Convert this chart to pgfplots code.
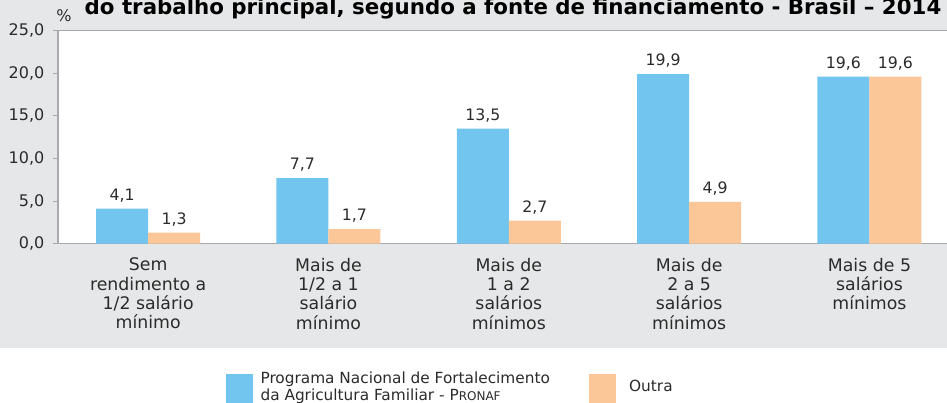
\documentclass[border=0pt]{standalone}
\usepackage{pgfplots}
\pgfplotsset{compat=1.18}
\usepackage{fontspec}
\setmainfont{DejaVu Sans}
\definecolor{bggray}{HTML}{E6E7E8}
\definecolor{barblue}{HTML}{71C5EE}
\definecolor{barorange}{HTML}{FBC799}
\definecolor{txt}{HTML}{2B2B2B}
\definecolor{axgray}{HTML}{A7A9AC}
\begin{document}
\begin{tikzpicture}
\fill[bggray] (0pt,41pt) rectangle (710.25pt,302.25pt);
\fill[white] (0pt,0pt) rectangle (710.25pt,41pt);
\begin{axis}[
  at={(43.5pt,119.5pt)}, anchor=south west,
  scale only axis, width=666.75pt, height=159.75pt,
  xmin=-0.5, xmax=4.43, ymin=0, ymax=25,
  enlarge x limits=false, enlarge y limits=false,
  ybar=0pt, bar width=39pt,
  axis background/.style={fill=white},
  axis x line*=bottom, axis y line*=left,
  axis line style={axgray, line width=0.8pt},
  xtick={0,1,2,3,4},
  xticklabels={{Sem\\rendimento a\\1/2 salário\\mínimo},{Mais de\\1/2 a 1\\salário\\mínimo},{Mais de\\1 a 2\\salários\\mínimos},{Mais de\\2 a 5\\salários\\mínimos},{Mais de 5\\salários\\mínimos}},
  x tick style={draw=none},
  xticklabel style={align=center, font=\fontsize{13}{14.5}\selectfont, text=txt, yshift=-3.5pt},
  ytick={0,5,10,15,20,25},
  y tick style={axgray, line width=0.8pt},
  tick align=outside, major tick length=3.75pt,
  yticklabel style={font=\fontsize{12}{14}\selectfont, text=txt, xshift=-3pt, /pgf/number format/.cd, fixed, fixed zerofill, precision=1, use comma},
  /pgf/number format/assume math mode=true,
  nodes near coords={\pgfmathprintnumber[fixed,fixed zerofill,precision=1,use comma]{\pgfplotspointmeta}},
  every node near coord/.append style={font=\fontsize{11.8}{14}\selectfont, text=txt, yshift=1.5pt},
  legend columns=2,
  legend style={at={(0.184,-0.677)}, anchor=west, draw=none, fill=none,
    font=\fontsize{11.5}{12.75}\selectfont, text=txt,
    cells={anchor=west},
    /tikz/every odd column/.append style={column sep=3.75pt},
    /tikz/every even column/.append style={column sep=19pt}},
]
\addplot[fill=barblue, draw=none, legend image code/.code={\fill[barblue] (0pt,-17.25pt) rectangle (20.25pt,6.75pt);}] coordinates {(0,4.1) (1,7.7) (2,13.5) (3,19.9) (4,19.6)};
\addlegendentry{\parbox{225pt}{\raggedright Programa Nacional de Fortalecimento\\da Agricultura Familiar - P{\fontsize{9}{10}\selectfont RONAF}}}
\addplot[fill=barorange, draw=none, legend image code/.code={\fill[barorange] (0pt,-17.25pt) rectangle (20.25pt,6.75pt);}] coordinates {(0,1.3) (1,1.7) (2,2.7) (3,4.9) (4,19.6)};
\addlegendentry{\hspace*{4.5pt}\raisebox{-2.5pt}[\height][\depth]{Outra}}
\draw[axgray, line width=0.8pt] (rel axis cs:0,1) -- (rel axis cs:1,1);
\end{axis}
\node[anchor=base, font=\bfseries\fontsize{16}{18}\selectfont, text=black] at (384.75pt,291pt) {do trabalho principal, segundo a fonte de financiamento - Brasil – 2014};
\node[anchor=base, font=\fontsize{12}{13}\selectfont, text=txt] at (48pt,285.75pt) {\%};
\pgfresetboundingbox
\path[use as bounding box] (0pt,0pt) rectangle (710.25pt,302.25pt);
\end{tikzpicture}
\end{document}
